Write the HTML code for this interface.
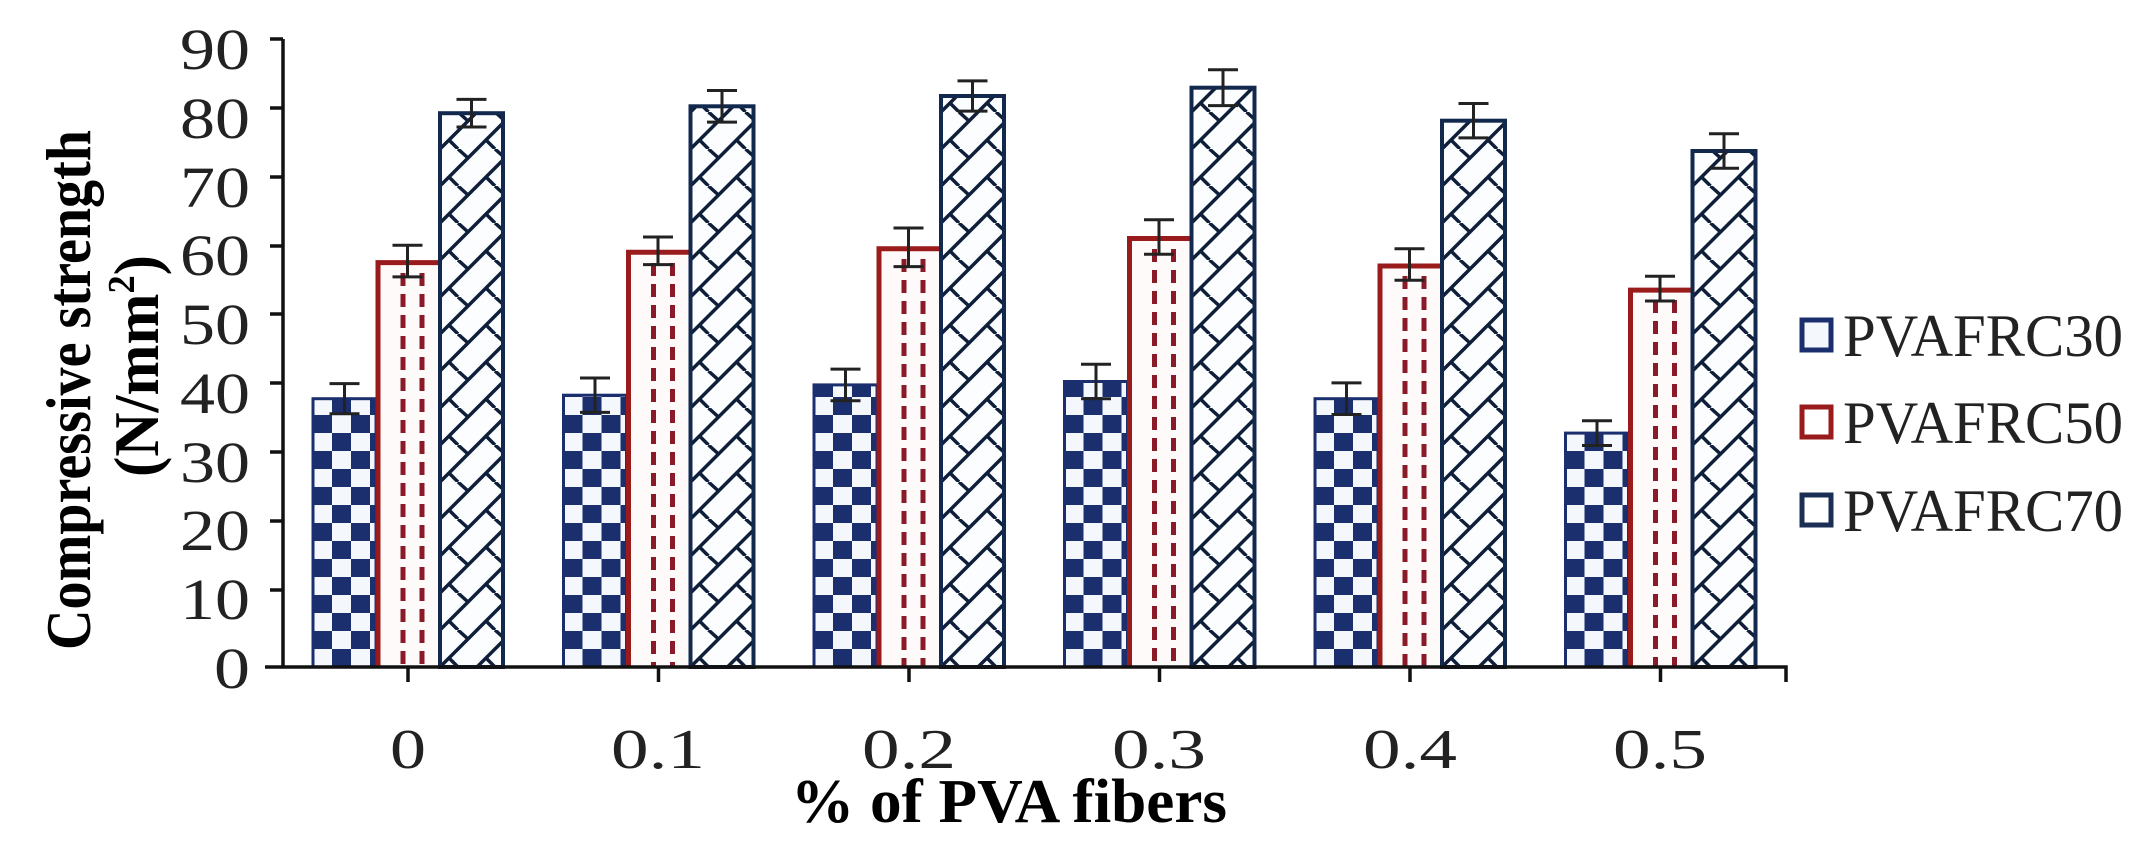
<!DOCTYPE html>
<html><head><meta charset="utf-8"><style>html,body{margin:0;padding:0;background:#fff}svg{display:block}</style></head>
<body>
<svg width="2155" height="860" viewBox="0 0 2155 860" xmlns="http://www.w3.org/2000/svg" font-family="Liberation Serif, serif">
<defs>
<pattern id="chk" patternUnits="userSpaceOnUse" width="38" height="36" x="0" y="667">
<rect width="38" height="36" fill="#f4f8fc"/>
<rect width="19" height="18" fill="#1b2f6e"/>
<rect x="19" y="18" width="19" height="18" fill="#1b2f6e"/>
</pattern>
<pattern id="hat" patternUnits="userSpaceOnUse" width="37" height="37" x="127" y="667">
<rect width="37" height="37" fill="#fbfdff"/>
<path d="M-2,39 L39,-2 M-2,2 L2,-2 M35,39 L39,35 M9,28 L18,37 M18,0 L28,9" stroke="#0f1f3a" stroke-width="3.5" fill="none"/>
</pattern>
</defs>

<g font-size="58" fill="#222" text-anchor="end">
<text x="250" y="688" textLength="36" lengthAdjust="spacingAndGlyphs">0</text>
<text x="250" y="619" textLength="70" lengthAdjust="spacingAndGlyphs">10</text>
<text x="250" y="550" textLength="70" lengthAdjust="spacingAndGlyphs">20</text>
<text x="250" y="482" textLength="70" lengthAdjust="spacingAndGlyphs">30</text>
<text x="250" y="413" textLength="70" lengthAdjust="spacingAndGlyphs">40</text>
<text x="250" y="344" textLength="70" lengthAdjust="spacingAndGlyphs">50</text>
<text x="250" y="275" textLength="70" lengthAdjust="spacingAndGlyphs">60</text>
<text x="250" y="207" textLength="70" lengthAdjust="spacingAndGlyphs">70</text>
<text x="250" y="138" textLength="70" lengthAdjust="spacingAndGlyphs">80</text>
<text x="250" y="69" textLength="70" lengthAdjust="spacingAndGlyphs">90</text>
</g>

<text transform="translate(90,390) rotate(-90)" font-size="64" font-weight="bold" text-anchor="middle" textLength="520" lengthAdjust="spacingAndGlyphs">Compressive strength</text>
<text transform="translate(158,366) rotate(-90)" font-size="64" font-weight="bold" text-anchor="middle" textLength="222" lengthAdjust="spacingAndGlyphs">(N/mm<tspan font-size="38" dy="-24">2</tspan><tspan dy="24">)</tspan></text>

<!-- group 0 -->
<g transform="translate(313,0)">
<rect x="0" y="398.7" width="63" height="268.3" fill="url(#chk)" stroke="#1b2f6e" stroke-width="3"/>
<rect x="63" y="261.1" width="63" height="405.9" fill="#fffafa"/>
<path d="M65,667 V262.6 H126" stroke="#9a1b1b" stroke-width="5" fill="none"/>
<path d="M90,273 V667 M109,273 V667" stroke="#8a1a28" stroke-width="5" stroke-dasharray="13,8" fill="none"/>
<rect x="127" y="113.2" width="63" height="553.8" fill="url(#hat)" stroke="#13284d" stroke-width="4"/>
<path d="M31.5,383.6 V413.8 M16.5,383.6 H46.5 M16.5,413.8 H46.5 M94.5,245.3 V276.9 M79.5,245.3 H109.5 M79.5,276.9 H109.5 M158.5,99.4 V127 M143.5,99.4 H173.5 M143.5,127 H173.5" stroke="#222" stroke-width="3" fill="none"/>
</g>
<!-- group 1 -->
<g transform="translate(563.5,0)">
<rect x="0" y="395.2" width="63" height="271.8" fill="url(#chk)" stroke="#1b2f6e" stroke-width="3"/>
<rect x="63" y="250.8" width="63" height="416.2" fill="#fffafa"/>
<path d="M65,667 V252.3 H126" stroke="#9a1b1b" stroke-width="5" fill="none"/>
<path d="M90,263 V667 M109,263 V667" stroke="#8a1a28" stroke-width="5" stroke-dasharray="13,8" fill="none"/>
<rect x="127" y="106.3" width="63" height="560.7" fill="url(#hat)" stroke="#13284d" stroke-width="4"/>
<path d="M31.5,378 V412.4 M16.5,378 H46.5 M16.5,412.4 H46.5 M94.5,237 V264.6 M79.5,237 H109.5 M79.5,264.6 H109.5 M158.5,90.5 V122.1 M143.5,90.5 H173.5 M143.5,122.1 H173.5" stroke="#222" stroke-width="3" fill="none"/>
</g>
<!-- group 2 -->
<g transform="translate(814,0)">
<rect x="0" y="384.9" width="63" height="282.1" fill="url(#chk)" stroke="#1b2f6e" stroke-width="3"/>
<rect x="63" y="247.3" width="63" height="419.7" fill="#fffafa"/>
<path d="M65,667 V248.8 H126" stroke="#9a1b1b" stroke-width="5" fill="none"/>
<path d="M90,259 V667 M109,259 V667" stroke="#8a1a28" stroke-width="5" stroke-dasharray="13,8" fill="none"/>
<rect x="127" y="96" width="63" height="571" fill="url(#hat)" stroke="#13284d" stroke-width="4"/>
<path d="M31.5,369.1 V400.7 M16.5,369.1 H46.5 M16.5,400.7 H46.5 M94.5,228 V266.6 M79.5,228 H109.5 M79.5,266.6 H109.5 M158.5,80.9 V111.1 M143.5,80.9 H173.5 M143.5,111.1 H173.5" stroke="#222" stroke-width="3" fill="none"/>
</g>
<!-- group 3 -->
<g transform="translate(1064.5,0)">
<rect x="0" y="381.5" width="63" height="285.5" fill="url(#chk)" stroke="#1b2f6e" stroke-width="3"/>
<rect x="63" y="237" width="63" height="430" fill="#fffafa"/>
<path d="M65,667 V238.5 H126" stroke="#9a1b1b" stroke-width="5" fill="none"/>
<path d="M90,249 V667 M109,249 V667" stroke="#8a1a28" stroke-width="5" stroke-dasharray="13,8" fill="none"/>
<rect x="127" y="87.7" width="63" height="579.3" fill="url(#hat)" stroke="#13284d" stroke-width="4"/>
<path d="M31.5,364.3 V398.7 M16.5,364.3 H46.5 M16.5,398.7 H46.5 M94.5,219.8 V254.2 M79.5,219.8 H109.5 M79.5,254.2 H109.5 M158.5,69.8 V105.6 M143.5,69.8 H173.5 M143.5,105.6 H173.5" stroke="#222" stroke-width="3" fill="none"/>
</g>
<!-- group 4 -->
<g transform="translate(1315,0)">
<rect x="0" y="398.7" width="63" height="268.3" fill="url(#chk)" stroke="#1b2f6e" stroke-width="3"/>
<rect x="63" y="264.5" width="63" height="402.5" fill="#fffafa"/>
<path d="M65,667 V266 H126" stroke="#9a1b1b" stroke-width="5" fill="none"/>
<path d="M90,276 V667 M109,276 V667" stroke="#8a1a28" stroke-width="5" stroke-dasharray="13,8" fill="none"/>
<rect x="127" y="120.7" width="63" height="546.3" fill="url(#hat)" stroke="#13284d" stroke-width="4"/>
<path d="M31.5,382.9 V414.5 M16.5,382.9 H46.5 M16.5,414.5 H46.5 M94.5,248.7 V280.3 M79.5,248.7 H109.5 M79.5,280.3 H109.5 M158.5,103.5 V137.9 M143.5,103.5 H173.5 M143.5,137.9 H173.5" stroke="#222" stroke-width="3" fill="none"/>
</g>
<!-- group 5 -->
<g transform="translate(1565.5,0)">
<rect x="0" y="433.1" width="63" height="233.9" fill="url(#chk)" stroke="#1b2f6e" stroke-width="3"/>
<rect x="63" y="288.6" width="63" height="378.4" fill="#fffafa"/>
<path d="M65,667 V290.1 H126" stroke="#9a1b1b" stroke-width="5" fill="none"/>
<path d="M90,300 V667 M109,300 V667" stroke="#8a1a28" stroke-width="5" stroke-dasharray="13,8" fill="none"/>
<rect x="127" y="151" width="63" height="516" fill="url(#hat)" stroke="#13284d" stroke-width="4"/>
<path d="M31.5,420.7 V445.5 M16.5,420.7 H46.5 M16.5,445.5 H46.5 M94.5,276.2 V301 M79.5,276.2 H109.5 M79.5,301 H109.5 M158.5,133.8 V168.2 M143.5,133.8 H173.5 M143.5,168.2 H173.5" stroke="#222" stroke-width="3" fill="none"/>
</g>

<g stroke="#111" stroke-width="3.5" fill="none">
<path d="M283,39 V667"/>
<path d="M265,667 H1786 V682"/>
<path d="M270,39 H283 M270,108 H283 M270,177 H283 M270,246 H283 M270,314 H283 M270,383 H283 M270,452 H283 M270,521 H283 M270,590 H283"/>
<path d="M408,667 v15 M658.5,667 v15 M909,667 v15 M1159.5,667 v15 M1410,667 v15 M1660.5,667 v15"/>
</g>

<g font-size="56" fill="#222" text-anchor="middle">
<text x="408" y="768" textLength="36" lengthAdjust="spacingAndGlyphs">0</text>
<text x="658" y="768" textLength="94" lengthAdjust="spacingAndGlyphs">0.1</text>
<text x="909" y="768" textLength="94" lengthAdjust="spacingAndGlyphs">0.2</text>
<text x="1159" y="768" textLength="94" lengthAdjust="spacingAndGlyphs">0.3</text>
<text x="1410" y="768" textLength="94" lengthAdjust="spacingAndGlyphs">0.4</text>
<text x="1660" y="768" textLength="94" lengthAdjust="spacingAndGlyphs">0.5</text>
</g>
<text x="1009" y="822" font-size="62" font-weight="bold" text-anchor="middle" textLength="436" lengthAdjust="spacingAndGlyphs">% of PVA fibers</text>

<rect x="1802" y="320" width="29" height="30" fill="#f4f8fc" stroke="#1b2f6e" stroke-width="5"/>
<rect x="1802" y="407" width="29" height="30" fill="#fff" stroke="#9a1b1b" stroke-width="5"/>
<rect x="1802" y="495" width="29" height="30" fill="#fff" stroke="#1b2f55" stroke-width="5"/>
<g font-size="60" fill="#222">
<text x="1843" y="356" textLength="280" lengthAdjust="spacingAndGlyphs">PVAFRC30</text>
<text x="1843" y="443" textLength="280" lengthAdjust="spacingAndGlyphs">PVAFRC50</text>
<text x="1843" y="531" textLength="280" lengthAdjust="spacingAndGlyphs">PVAFRC70</text>
</g>
</svg>
</body></html>
